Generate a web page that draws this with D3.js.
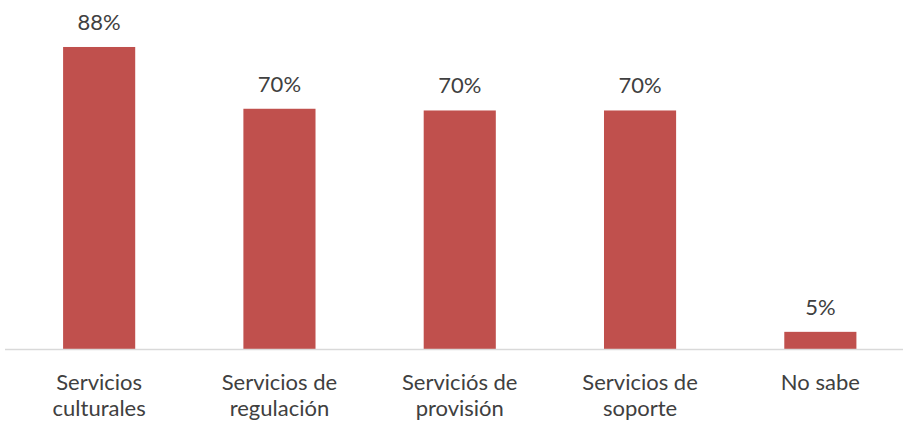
<!DOCTYPE html>
<html>
<head>
<meta charset="utf-8">
<script src="https://cdn.jsdelivr.net/npm/d3@7"></script>
<style>
  html, body { margin: 0; padding: 0; background: #ffffff; }
  svg { display: block; }
  text { font-family: Lato, "Open Sans", sans-serif; fill: #404040; }
</style>
</head>
<body>
<svg id="chart" width="903" height="421"></svg>
<script>
const categories = [
  ["Servicios", "culturales"],
  ["Servicios de", "regulación"],
  ["Serviciós de", "provisión"],
  ["Servicios de", "soporte"],
  ["No sabe"]
];
const values = [88.0, 70.0, 69.5, 69.5, 5.0];
const valueLabels = ["88%", "70%", "70%", "70%", "5%"];

const W = 903, H = 421;
const svg = d3.select("#chart");
const keys = categories.map((c, i) => i);

const x = d3.scaleBand()
  .domain(keys)
  .range([9, 910.5])
  .paddingInner(0.6)
  .paddingOuter(0.3);

const y = d3.scaleLinear()
  .domain([0, 100])
  .range([349, 349 - 343.2]);

// bars
svg.append("g").selectAll("rect")
  .data(values)
  .join("rect")
  .attr("x", (d, i) => x(i))
  .attr("y", d => y(d))
  .attr("width", x.bandwidth())
  .attr("height", d => y(0) - y(d))
  .attr("fill", "#c0504d");

// axis line
svg.append("line")
  .attr("x1", 5).attr("x2", W)
  .attr("y1", y(0) + 0.5).attr("y2", y(0) + 0.5)
  .attr("stroke", "#d9d9d9")
  .attr("stroke-width", 1.5);

// value labels
svg.append("g").selectAll("text")
  .data(values)
  .join("text")
  .attr("x", (d, i) => x(i) + x.bandwidth() / 2)
  .attr("y", d => y(d) - 17)
  .attr("text-anchor", "middle")
  .attr("font-size", "22px")
  .text((d, i) => valueLabels[i]);

// category labels
const cat = svg.append("g").selectAll("text")
  .data(categories)
  .join("text")
  .attr("x", (d, i) => x(i) + x.bandwidth() / 2)
  .attr("y", 390)
  .attr("text-anchor", "middle")
  .attr("font-size", "22px");

cat.each(function(lines, i) {
  const t = d3.select(this);
  lines.forEach((ln, j) => {
    t.append("tspan")
      .attr("x", x(i) + x.bandwidth() / 2)
      .attr("dy", j === 0 ? 0 : 26)
      .text(ln);
  });
});
</script>
</body>
</html>
